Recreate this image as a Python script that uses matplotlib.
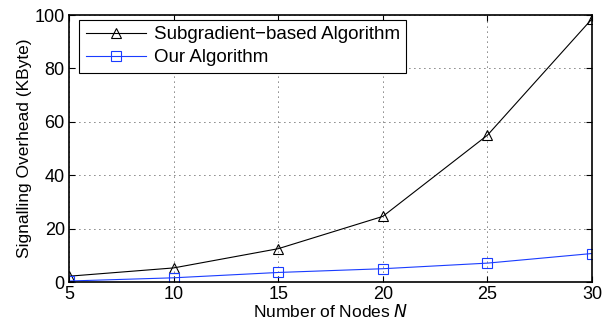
import matplotlib.pyplot as plt
import numpy as np

plt.rcParams['font.family'] = ['Liberation Sans', 'DejaVu Sans']

nodes = [5, 10, 15, 20, 25, 30]
subgradient = [2.2, 5.3, 12.5, 24.6, 55.0, 98.6]
ours = [0.4, 1.6, 3.6, 5.0, 7.1, 10.7]

fig = plt.figure(figsize=(6.02, 3.28), dpi=100)
ax = fig.add_axes([0.1146, 0.140, 0.8688, 0.814])

ax.plot(nodes, subgradient, color='black', lw=0.8, marker='^', ms=7.5,
        mfc='none', mec='black', mew=0.8, label='Subgradient\u2212based Algorithm')
ax.plot(nodes, ours, color='#1a3cff', lw=0.8, marker='s', ms=6.5,
        mfc='none', mec='#1a3cff', mew=0.8, label='Our Algorithm')

ax.set_xlim(5, 30)
ax.set_ylim(0, 100)
ax.set_xticks(nodes)
ax.set_yticks([0, 20, 40, 60, 80, 100])
ax.tick_params(direction='in', labelsize=13, length=4, width=0.8, top=True, right=True, pad=3)
ax.grid(True, color='black', linestyle=(0, (1, 5)), lw=0.6)
for s in ax.spines.values():
    s.set_linewidth(1.2)

ax.set_xlabel('Number of Nodes $\\mathit{N}$', fontsize=12.5, labelpad=0)
ax.set_ylabel('Signalling Overhead (KByte)', fontsize=12.5, labelpad=2)

leg = ax.legend(loc='upper left', bbox_to_anchor=(0.02, 0.983), fontsize=13.5,
                handlelength=3.2, borderpad=0.35, labelspacing=0.3,
                handletextpad=0.4, borderaxespad=0, fancybox=False,
                framealpha=1, edgecolor='black')
leg.get_frame().set_linewidth(0.8)

fig.savefig('out.png', dpi=100)
